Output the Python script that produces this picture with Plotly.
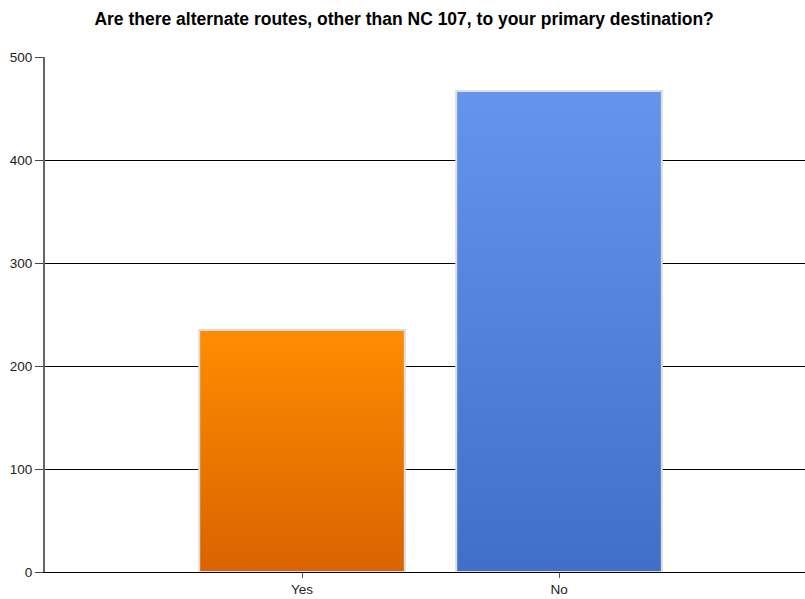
import plotly.graph_objects as go

categories = ["Yes", "No"]
values = [235, 467]
top_colors = ["#FF8C00", "#6495ED"]
bottom_colors = ["#D96300", "#3F6FC7"]
y_ticks = [0, 100, 200, 300, 400, 500]

bar_half = 0.4
fig = go.Figure()
for i, (cat, val, ct, cb) in enumerate(zip(categories, values, top_colors, bottom_colors)):
    xs = [i - bar_half, i + bar_half, i + bar_half, i - bar_half, i - bar_half]
    ys = [0, 0, val, val, 0]
    fig.add_trace(go.Scatter(
        x=xs, y=ys, mode="lines", fill="toself",
        line=dict(color="#DCDCDC", width=2),
        fillgradient=dict(type="vertical", colorscale=[[0, cb], [1, ct]]),
        name=cat, showlegend=False, hoverinfo="skip",
    ))

fig.update_layout(
    width=805, height=599,
    margin=dict(l=45, r=0, t=57, b=27),
    paper_bgcolor="white", plot_bgcolor="white",
    title=dict(
        text="<b>Are there alternate routes, other than NC 107, to your primary destination?</b>",
        x=0.502, xanchor="center", xref="container",
        y=1 - 18.5 / 599, yref="container", yanchor="middle",
        font=dict(family="Liberation Sans, Arial, sans-serif", size=17.5, color="black"),
    ),
    font=dict(family="Liberation Sans, Arial, sans-serif", size=13.5, color="#222"),
)
fig.update_xaxes(
    range=[-1, 1.957], tickvals=list(range(len(categories))), ticktext=categories,
    showgrid=False, zeroline=False, showline=True, linecolor="black", linewidth=1,
    ticks="outside", ticklen=5, tickcolor="#555", tickwidth=1,
    tickfont=dict(size=13.5, color="#222"),
)
fig.update_yaxes(
    range=[0, 500], tickvals=y_ticks, showgrid=True, gridcolor="black", gridwidth=1,
    zeroline=True, zerolinecolor="black", zerolinewidth=1,
    showline=True, linecolor="#666", linewidth=2,
    ticks="outside", ticklen=8, tickcolor="#444", tickwidth=1,
    tickfont=dict(size=13.5, color="#222"),
)
fig.write_html(
    "out.html",
    config={"displayModeBar": False},
    post_script="document.body.style.margin='0';document.body.style.overflow='hidden';",
)
